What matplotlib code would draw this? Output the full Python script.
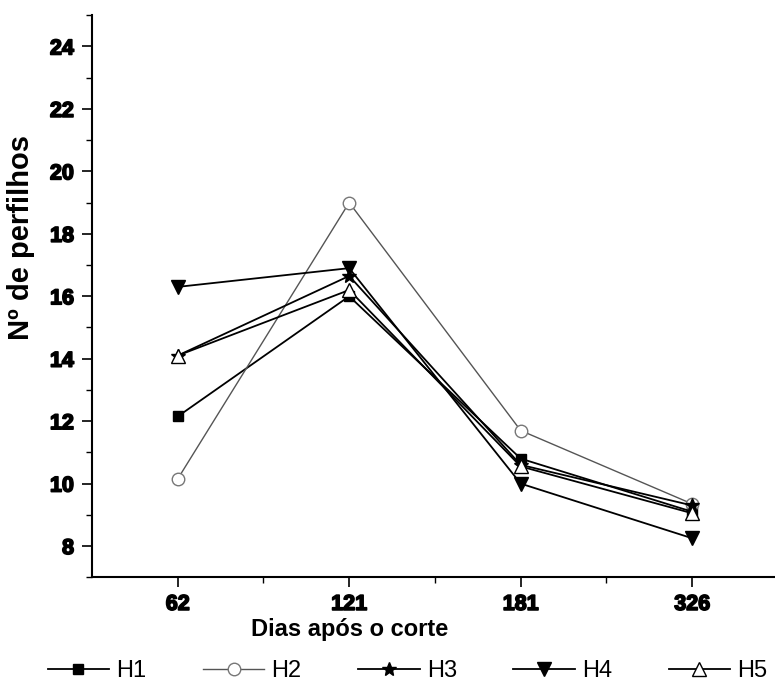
import matplotlib
matplotlib.use('Agg')
import numpy as np
from matplotlib import pyplot as plt
from matplotlib import patheffects
from matplotlib.ticker import MultipleLocator, FixedLocator

# dados
dias = ['62', '121', '181', '326']
h1 = [12.15, 16.0, 10.8, 9.1]
h2 = [10.15, 19.0, 11.7, 9.35]
h3 = [14.1, 16.65, 10.6, 9.3]
h4 = [16.3, 16.9, 10.0, 8.25]
h5 = [14.1, 16.2, 10.55, 9.05]

plt.rcParams['font.family'] = ['Liberation Sans', 'DejaVu Sans']

fig = plt.figure(figsize=(7.75, 6.93), dpi=100)
ax = fig.add_axes([0.1187, 0.167, 0.885, 0.811])

x = np.arange(len(dias))
ax.plot(x, h1, '-', color='black', lw=1.3, marker='s', ms=6.5, mfc='black', mec='black', label='H1')
ax.plot(x, h2, '-', color='#555555', lw=1.0, marker='o', ms=9, mfc='white', mec='#777777', label='H2')
ax.plot(x, h3, '-', color='black', lw=1.3, marker='*', ms=10, mfc='black', mec='black', label='H3')
ax.plot(x, h4, '-', color='black', lw=1.3, marker='v', ms=10, mfc='black', mec='black', label='H4')
ax.plot(x, h5, '-', color='black', lw=1.3, marker='^', ms=9.5, mfc='white', mec='black', label='H5')

ax.set_xlim(-0.5, 3.5)
ax.set_ylim(7, 25)

# rótulos dos eixos em negrito "pesado"
grosso = [patheffects.withStroke(linewidth=1.2, foreground='black')]
ax.set_xticks(x)
ax.set_xticklabels(dias, fontsize=15.5, fontweight='bold')
ax.xaxis.set_minor_locator(FixedLocator([0.5, 1.5, 2.5]))
ax.set_yticks(np.arange(8, 25, 2))
ax.set_yticklabels([str(v) for v in range(8, 25, 2)], fontsize=15.5, fontweight='bold')
for t in ax.get_xticklabels() + ax.get_yticklabels():
    t.set_path_effects(grosso)
ax.yaxis.set_minor_locator(MultipleLocator(1))

ax.tick_params(which='major', direction='out', length=7, width=1.2)
ax.tick_params(axis='x', which='major', pad=5)
ax.tick_params(axis='y', which='major', pad=6)
ax.tick_params(which='minor', direction='out', length=4, width=1.0)

for s in ['top', 'right']:
    ax.spines[s].set_visible(False)
for s in ['left', 'bottom']:
    ax.spines[s].set_linewidth(1.5)

ax.set_xlabel('Dias após o corte', fontsize=17, fontweight='bold')
ax.xaxis.set_label_coords(0.376, -0.072)
ax.set_ylabel('Nº de perfilhos', fontsize=21, fontweight='bold')
ax.yaxis.set_label_coords(-0.083, 0.605)

ax.legend(loc='upper center', bbox_to_anchor=(0.46, -0.11), ncol=5, frameon=False,
          fontsize=17, handlelength=2.6, handletextpad=0.3, columnspacing=2.4)

plt.savefig('out.png', dpi=100)
